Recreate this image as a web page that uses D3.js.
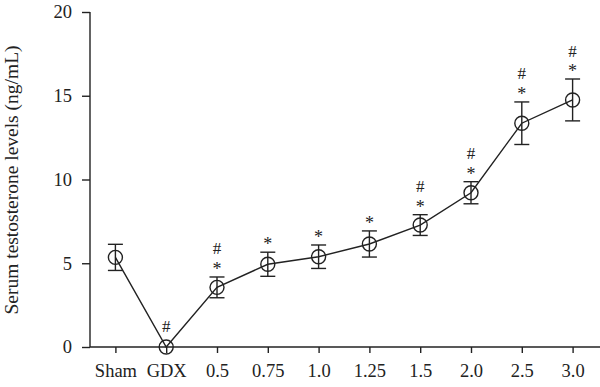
<!DOCTYPE html>
<html>
<head>
<meta charset="utf-8">
<script src="https://cdn.jsdelivr.net/npm/d3@7"></script>
<style>
  body { margin: 0; background: #fff; }
  svg { display: block; font-family: "Liberation Serif", "DejaVu Serif", serif; }
</style>
</head>
<body>
<svg id="chart" width="600" height="387"></svg>
<script>
// groups on the x axis
var groups = ["Sham", "GDX", "0.5", "0.75", "1.0", "1.25", "1.5", "2.0", "2.5", "3.0"];
// mean serum testosterone (ng/mL) and error (SD)
var means = [5.35, 0, 3.56, 4.94, 5.39, 6.15, 7.28, 9.21, 13.36, 14.75];
var errs = [0.78, 0, 0.62, 0.72, 0.7, 0.78, 0.62, 0.66, 1.27, 1.25];
// significance marks drawn above each point
var marks = [[], ["#"], ["#", "*"], ["*"], ["*"], ["*"], ["#", "*"], ["#", "*"], ["#", "*"], ["#", "*"]];
var yTicks = [0, 5, 10, 15, 20];

var svg = d3.select("#chart");
var plotL = 90, plotR = 598, plotT = 12, plotB = 347;

var x = d3.scalePoint().domain(groups).range([plotL, plotR]).padding(0.5);
var y = d3.scaleLinear().domain([0, 20]).range([plotB, plotT]);

var data = groups.map(function(g, i){
	return { g: g, m: means[i], e: errs[i], marks: marks[i] };
});

// axes
var yAxis = svg.append("g")
	.attr("transform", "translate(" + plotL + ",0)")
	.call(d3.axisLeft(y).tickValues(yTicks).tickSize(8).tickPadding(10));
var xAxis = svg.append("g")
	.attr("transform", "translate(0," + plotB + ")")
	.call(d3.axisBottom(x).tickSize(6).tickPadding(11).tickSizeOuter(0));

[yAxis, xAxis].forEach(function(a){
	a.select(".domain").attr("stroke", "#222").attr("stroke-width", 1.4);
	a.selectAll(".tick line").attr("stroke", "#222").attr("stroke-width", 1.4);
	a.selectAll("text").attr("font-family", "Liberation Serif").attr("font-size", 18.5).attr("fill", "#222");
});
yAxis.select(".domain").attr("d", "M0," + plotT + "V" + plotB);
xAxis.select(".domain").attr("d", "M" + plotL + ",0H" + 600);

// y title
svg.append("text")
	.attr("transform", "translate(18,180) rotate(-90)")
	.attr("text-anchor", "middle")
	.attr("font-size", 19.5)
	.attr("fill", "#222")
	.text("Serum testosterone levels (ng/mL)");

// connecting line
svg.append("path")
	.datum(data)
	.attr("fill", "none")
	.attr("stroke", "#222")
	.attr("stroke-width", 1.4)
	.attr("d", d3.line().x(function(d){ return x(d.g); }).y(function(d){ return y(d.m); }));

// error bars
var eb = svg.append("g").attr("stroke", "#222").attr("stroke-width", 1.4)
	.selectAll("g").data(data.filter(function(d){ return d.e > 0; })).enter().append("g");
eb.append("line")
	.attr("x1", function(d){ return x(d.g); }).attr("x2", function(d){ return x(d.g); })
	.attr("y1", function(d){ return y(d.m + d.e); }).attr("y2", function(d){ return y(d.m - d.e); });
eb.append("line")
	.attr("x1", function(d){ return x(d.g) - 7.5; }).attr("x2", function(d){ return x(d.g) + 7.5; })
	.attr("y1", function(d){ return y(d.m + d.e); }).attr("y2", function(d){ return y(d.m + d.e); });
eb.append("line")
	.attr("x1", function(d){ return x(d.g) - 7.5; }).attr("x2", function(d){ return x(d.g) + 7.5; })
	.attr("y1", function(d){ return y(d.m - d.e); }).attr("y2", function(d){ return y(d.m - d.e); });

// points
svg.append("g").selectAll("circle").data(data).enter().append("circle")
	.attr("cx", function(d){ return x(d.g); })
	.attr("cy", function(d){ return y(d.m); })
	.attr("r", 7)
	.attr("fill", "none")
	.attr("stroke", "#222")
	.attr("stroke-width", 1.4);

// significance marks
var mk = svg.append("g").selectAll("g").data(data).enter().append("g");
mk.selectAll("text").data(function(d){
	var topY = d.e > 0 ? y(d.m + d.e) : y(d.m) - 7;
	return d.marks.map(function(s){
		var off = s == "*" ? 2 : (d.marks.length > 1 ? 22.5 : 8);
		return { s: s, x: x(d.g), y: topY - off };
	});
}).enter().append("text")
	.attr("x", function(d){ return d.x; })
	.attr("y", function(d){ return d.y; })
	.attr("text-anchor", "middle")
	.attr("font-size", function(d){ return d.s == "*" ? 18 : 17; })
	.attr("fill", "#222")
	.text(function(d){ return d.s; });
</script>
</body>
</html>
